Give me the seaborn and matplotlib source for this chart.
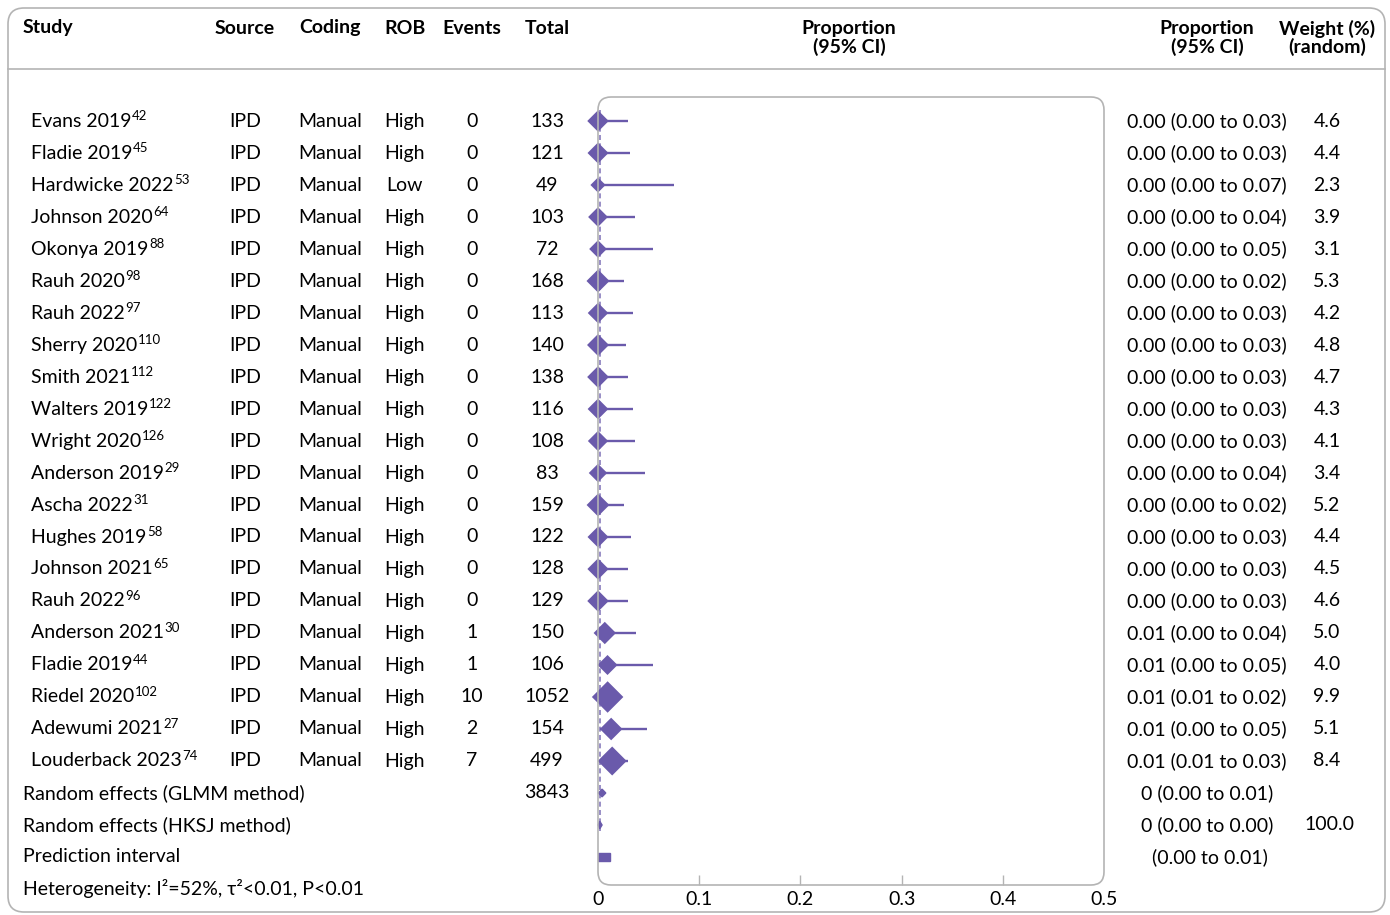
import numpy as np
import pandas as pd
import seaborn as sns
import matplotlib.pyplot as plt
from matplotlib.patches import FancyBboxPatch, Polygon, Rectangle
from matplotlib.lines import Line2D
from matplotlib.transforms import blended_transform_factory

# Datos del forest plot
estudios = ["Evans 2019", "Fladie 2019", "Hardwicke 2022", "Johnson 2020", "Okonya 2019",
            "Rauh 2020", "Rauh 2022", "Sherry 2020", "Smith 2021", "Walters 2019",
            "Wright 2020", "Anderson 2019", "Ascha 2022", "Hughes 2019", "Johnson 2021",
            "Rauh 2022", "Anderson 2021", "Fladie 2019", "Riedel 2020", "Adewumi 2021",
            "Louderback 2023"]
refs = [42, 45, 53, 64, 88, 98, 97, 110, 112, 122, 126, 29, 31, 58, 65, 96, 30, 44, 102, 27, 74]
rob = ["High", "High", "Low"] + ["High"] * 18
eventos = [0] * 16 + [1, 1, 10, 2, 7]
totales = [133, 121, 49, 103, 72, 168, 113, 140, 138, 116, 108, 83, 159, 122, 128, 129,
           150, 106, 1052, 154, 499]
proporcion = [0.0] * 16 + [0.0067, 0.0094, 0.0095, 0.013, 0.014]
ic_inf = [0.0] * 16 + [0.0002, 0.0002, 0.005, 0.0016, 0.006]
ic_sup = [0.030, 0.032, 0.075, 0.037, 0.054, 0.026, 0.035, 0.028, 0.030, 0.035, 0.037,
          0.046, 0.026, 0.033, 0.030, 0.030, 0.038, 0.054, 0.017, 0.048, 0.030]
pesos = [4.6, 4.4, 2.3, 3.9, 3.1, 5.3, 4.2, 4.8, 4.7, 4.3, 4.1, 3.4, 5.2, 4.4, 4.5, 4.6,
         5.0, 4.0, 9.9, 5.1, 8.4]
ic_texto = ["0.00 (0.00 to 0.03)", "0.00 (0.00 to 0.03)", "0.00 (0.00 to 0.07)",
            "0.00 (0.00 to 0.04)", "0.00 (0.00 to 0.05)", "0.00 (0.00 to 0.02)",
            "0.00 (0.00 to 0.03)", "0.00 (0.00 to 0.03)", "0.00 (0.00 to 0.03)",
            "0.00 (0.00 to 0.03)", "0.00 (0.00 to 0.03)", "0.00 (0.00 to 0.04)",
            "0.00 (0.00 to 0.02)", "0.00 (0.00 to 0.03)", "0.00 (0.00 to 0.03)",
            "0.00 (0.00 to 0.03)", "0.01 (0.00 to 0.04)", "0.01 (0.00 to 0.05)",
            "0.01 (0.01 to 0.02)", "0.01 (0.00 to 0.05)", "0.01 (0.01 to 0.03)"]

# Resumen (GLMM, HKSJ) e intervalo de prediccion
resumen_nombres = ["Random effects (GLMM method)", "Random effects (HKSJ method)"]
resumen_est = [0.004, 0.0017]
resumen_inf = [0.0005, 0.0002]
resumen_sup = [0.0077, 0.0040]
resumen_texto = ["0 (0.00 to 0.01)", "0 (0.00 to 0.00)"]
total_global = 3843
pred_inf, pred_sup = 0.0, 0.0114
pred_texto = "(0.00 to 0.01)"
heterogeneidad = "Heterogeneity: I\u00b2=52%, \u03c4\u00b2<0.01, P<0.01"
xticks = [0, 0.1, 0.2, 0.3, 0.4, 0.5]

morado = "#6a5aab"
gris = "#b4b4b4"

plt.rcParams['font.family'] = ['Lato', 'DejaVu Sans']
FS = 14

fig = plt.figure(figsize=(13.9, 9.15), dpi=100)
W, H = 1390, 915
ax = fig.add_axes([598 / W, 1 - 885 / H, 506 / W, 788 / H])

n = len(estudios)
df = pd.DataFrame({"fila": np.arange(n), "prop": proporcion, "inf": ic_inf,
                   "sup": ic_sup, "peso": pesos})

# Lineas del IC y diamantes de cada estudio
ax.hlines(df["fila"], df["inf"], df["sup"], color=morado, lw=1.7, zorder=2)
sns.scatterplot(data=df, x="prop", y="fila", size="peso", sizes=(0, 260),
                size_norm=(0, 10), marker="D", color=morado, edgecolor=morado,
                linewidth=0, legend=False, ax=ax, zorder=3)
for c in ax.collections:
    c.set_clip_on(False)

# Linea discontinua del efecto combinado
ax.vlines(resumen_est[1], -0.35, n + 1.2, color=morado, lw=1.2,
          linestyles=(0, (3, 2)), zorder=1, alpha=0.8)

# Diamantes de resumen
for i in range(2):
    y = n + i
    ax.add_patch(Polygon([[resumen_inf[i], y], [resumen_est[i], y - 0.12],
                          [resumen_sup[i], y], [resumen_est[i], y + 0.12]],
                         closed=True, color=morado, zorder=3, clip_on=False))
ax.add_patch(Rectangle((pred_inf, n + 2 - 0.12), pred_sup - pred_inf, 0.24,
                       color=morado, zorder=3))

ax.set_xlim(0, 0.5)
ax.set_ylim(23.875, -0.75)
ax.set_xticks(xticks)
ax.set_xticklabels(["0", "0.1", "0.2", "0.3", "0.4", "0.5"], fontsize=FS)
ax.set_yticks([])
ax.set_xlabel("")
ax.set_ylabel("")
ax.tick_params(axis="x", direction="in", length=7, color=gris, width=1, pad=4)
ticks = ax.xaxis.get_major_ticks()
ticks[0].tick1line.set_visible(False)
ticks[-1].tick1line.set_visible(False)
for s in ax.spines.values():
    s.set_visible(False)
ax.patch.set_visible(False)

# Cajas redondeadas
fig.patches.append(FancyBboxPatch((5.98, 0.30), 5.06, 7.88,
                                  boxstyle="round,pad=0,rounding_size=0.13",
                                  transform=fig.dpi_scale_trans, fill=False,
                                  ec=gris, lw=1.2, zorder=0))
fig.patches.append(FancyBboxPatch((0.08, 0.03), 13.77, 9.04,
                                  boxstyle="round,pad=0,rounding_size=0.16",
                                  transform=fig.dpi_scale_trans, fill=False,
                                  ec=gris, lw=1.2, zorder=0))
fig.lines.append(Line2D([8 / W, 1385 / W], [1 - 69 / H, 1 - 69 / H],
                        transform=fig.transFigure, color=gris, lw=1.2))

# Encabezados
def head(x, y, s, ha="center"):
    fig.text(x / W, 1 - y / H, s, ha=ha, va="center", fontsize=FS,
             fontweight="bold", linespacing=1.05)

head(23, 28, "Study", ha="left")
head(245, 28, "Source")
head(330, 28, "Coding")
head(405, 28, "ROB")
head(472, 28, "Events")
head(547, 28, "Total")
head(849, 38, "Proportion\n(95% CI)")
head(1207, 38, "Proportion\n(95% CI)")
head(1327, 38, "Weight (%)\n(random)")

# Columnas de texto
tr = blended_transform_factory(fig.transFigure, ax.transData)

def col(x, y, s, ha="center"):
    return ax.text(x / W, y, s, transform=tr, ha=ha, va="center", fontsize=FS,
                   clip_on=False)

for i in range(n):
    t = col(31, i, estudios[i], ha="left")
    ax.annotate(str(refs[i]), xy=(1, 1), xycoords=t, xytext=(0.5, 1.5),
                textcoords="offset points", ha="left", va="top", fontsize=9.5)
    col(245, i, "IPD")
    col(330, i, "Manual")
    col(405, i, rob[i])
    col(472, i, str(eventos[i]))
    col(547, i, str(totales[i]))
    col(1207, i, ic_texto[i])
    col(1327, i, "%.1f" % pesos[i])

for i in range(2):
    col(23, n + i, resumen_nombres[i], ha="left")
    col(1207, n + i, resumen_texto[i])
col(547, n, str(total_global))
col(1329, n + 1, "100.0")
col(23, n + 2, "Prediction interval", ha="left")
col(1210, n + 2, pred_texto)
col(23, n + 3, heterogeneidad, ha="left")

fig.savefig("out.png", dpi=100)
